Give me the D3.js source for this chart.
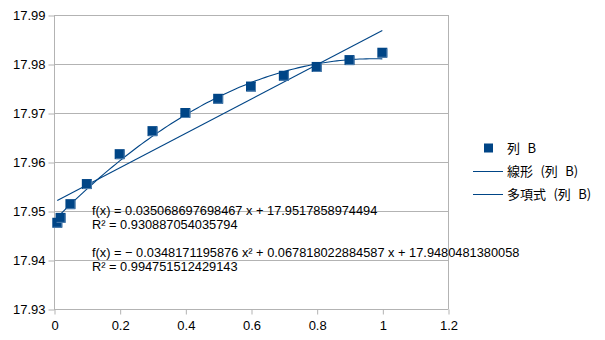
<!DOCTYPE html>
<html>
<head>
<meta charset="utf-8">
<script src="https://cdn.jsdelivr.net/npm/d3@7/dist/d3.min.js"></script>
<style>
  html, body { margin: 0; padding: 0; background: #fff; }
  svg { display: block; }
  text { fill: #000; }
</style>
</head>
<body>
<svg id="chart" width="605" height="340"></svg>
<script>
// Measurements: column A (x) against column B (y)
const xValues = [0.01, 0.02, 0.05, 0.1, 0.2, 0.3, 0.4, 0.5, 0.6, 0.7, 0.8, 0.9, 1.0];
const yValues = [17.9476, 17.9486, 17.9514, 17.9555, 17.9616, 17.9663, 17.9700, 17.9729, 17.9754, 17.9776, 17.9794, 17.9808, 17.9823];

// Trend line coefficients (as printed on the chart)
const linearCoef = [17.9517858974494, 0.035068697698467];              // c0, c1
const polyCoef = [17.9480481380058, 0.067818022884587, -0.0348171195876]; // c0, c1, c2

const xTicks = [0, 0.2, 0.4, 0.6, 0.8, 1, 1.2];
const yTicks = [17.93, 17.94, 17.95, 17.96, 17.97, 17.98, 17.99];

const equationLines = [
  "f(x) = 0.035068697698467 x + 17.9517858974494",
  "R² = 0.930887054035794",
  "f(x) = − 0.0348171195876 x² + 0.067818022884587 x + 17.9480481380058",
  "R² = 0.994751512429143"
];
const legendLabels = ["列 B", "線形 (列 B)", "多項式 (列 B)"];

const seriesColor = "#004586";
const gridColor = "#b3b3b3";
const latinFont = "'Liberation Sans', Arial, 'Noto Sans CJK JP', sans-serif";
const cjkFont = "'Noto Sans CJK JP', sans-serif";

const svg = d3.select("#chart");
const plot = { left: 54, right: 448, top: 15, bottom: 309 };

const x = d3.scaleLinear().domain([0, 1.2]).range([plot.left, plot.right]);
const y = d3.scaleLinear().domain([17.93, 17.99]).range([plot.bottom, plot.top]);

// horizontal grid lines
svg.append("g")
  .selectAll("line")
  .data(yTicks)
  .join("line")
  .attr("x1", plot.left).attr("x2", plot.right)
  .attr("y1", d => Math.round(y(d)) + 0.5).attr("y2", d => Math.round(y(d)) + 0.5)
  .attr("stroke", gridColor).attr("stroke-width", 1);

// right border of plot area
svg.append("line")
  .attr("x1", plot.right + 0.5).attr("x2", plot.right + 0.5)
  .attr("y1", plot.top).attr("y2", plot.bottom)
  .attr("stroke", gridColor);

// y axis
const yAxis = svg.append("g")
  .attr("transform", `translate(${plot.left + 0.5},0.5)`)
  .call(d3.axisLeft(y).tickValues(yTicks).tickFormat(d3.format(".2f")).tickSize(6).tickPadding(3));
yAxis.selectAll("path.domain").attr("stroke", gridColor).attr("d", `M0,${plot.top}V${plot.bottom}`);
yAxis.selectAll(".tick line").attr("stroke", gridColor);
yAxis.selectAll(".tick text").attr("font-size", 13).style("font-family", latinFont).attr("fill", "#000");

// x axis
const xAxis = svg.append("g")
  .attr("transform", `translate(0.5,${plot.bottom + 0.5})`)
  .call(d3.axisBottom(x).tickValues(xTicks).tickFormat(d3.format("")).tickSize(5).tickPadding(6));
xAxis.selectAll("path.domain").attr("stroke", gridColor).attr("d", `M${plot.left},0H${plot.right}`);
xAxis.selectAll(".tick line").attr("stroke", gridColor);
xAxis.selectAll(".tick text").attr("font-size", 13).style("font-family", latinFont).attr("fill", "#000");

// trend lines
const xMin = d3.min(xValues), xMax = d3.max(xValues);
const linearFn = t => linearCoef[0] + linearCoef[1] * t;
const polyFn = t => polyCoef[0] + polyCoef[1] * t + polyCoef[2] * t * t;
const line = d3.line().x(d => x(d[0])).y(d => y(d[1]));

svg.append("path")
  .datum([xMin, xMax].map(t => [t, linearFn(t)]))
  .attr("d", line).attr("fill", "none")
  .attr("stroke", seriesColor).attr("stroke-width", 1.1);

const samples = d3.range(0, 101).map(i => xMin + (xMax - xMin) * i / 100);
svg.append("path")
  .datum(samples.map(t => [t, polyFn(t)]))
  .attr("d", line).attr("fill", "none")
  .attr("stroke", seriesColor).attr("stroke-width", 1.1);

// data markers
const ms = 10;
const markers = svg.append("g")
  .selectAll("g")
  .data(xValues.map((v, i) => [v, yValues[i]]))
  .join("g")
  .attr("transform", d => `translate(${x(d[0])},${y(d[1])})`);
markers.append("rect")
  .attr("x", -ms / 2).attr("y", -ms / 2).attr("width", ms).attr("height", ms)
  .attr("fill", seriesColor);
markers.append("path")
  .attr("d", `M${-ms / 2 + 1},${ms / 2 - 0.5}H${ms / 2 - 0.5}V${-ms / 2 + 1}`)
  .attr("fill", "none").attr("stroke", "#4f7fae").attr("stroke-width", 1);

// equation labels
const eqY = [215, 229, 257, 271];
svg.append("g")
  .selectAll("text")
  .data(equationLines)
  .join("text")
  .attr("x", 92).attr("y", (d, i) => eqY[i])
  .attr("font-size", 12.8)
  .style("font-family", latinFont)
  .text(d => d);

// legend
const legY = [148, 171, 194];
const legend = svg.append("g");
legend.append("rect")
  .attr("x", 484).attr("y", legY[0] - 4.5).attr("width", 9).attr("height", 9)
  .attr("fill", seriesColor);
[1, 2].forEach(i => {
  legend.append("line")
    .attr("x1", 473).attr("x2", 503)
    .attr("y1", legY[i] + 0.5).attr("y2", legY[i] + 0.5)
    .attr("stroke", seriesColor).attr("stroke-width", 1);
});
legend.selectAll("text")
  .data(legendLabels)
  .join("text")
  .attr("x", 507).attr("y", (d, i) => legY[i])
  .attr("dy", "0.35em")
  .attr("font-size", 13)
  .style("font-family", cjkFont)
  .style("word-spacing", "4.5px")
  .text(d => d);
</script>
</body>
</html>
